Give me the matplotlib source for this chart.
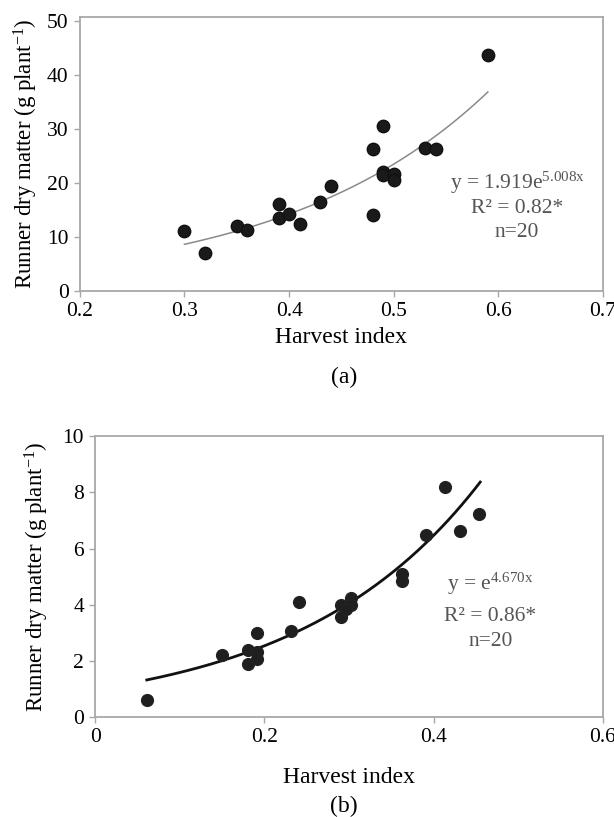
import numpy as np
import matplotlib
matplotlib.use("Agg")
import matplotlib.pyplot as plt

plt.rcParams['font.family'] = ['Liberation Serif', 'DejaVu Serif']
plt.rcParams['mathtext.fontset'] = 'custom'
plt.rcParams['mathtext.rm'] = 'Liberation Serif'
plt.rcParams['mathtext.it'] = 'Liberation Serif'

# Panel (a) data
hi_a = [0.30, 0.32, 0.35, 0.36, 0.39, 0.39, 0.40, 0.41, 0.43, 0.44,
        0.48, 0.48, 0.49, 0.49, 0.49, 0.50, 0.50, 0.53, 0.54, 0.59]
rdm_a = [11.0, 7.0, 12.1, 11.2, 16.1, 13.5, 14.3, 12.3, 16.5, 19.5,
         26.2, 14.1, 30.5, 22.1, 21.5, 21.6, 20.6, 26.5, 26.3, 43.7]
coef_a, expo_a = 1.919, 5.008
fit_range_a = (0.30, 0.59)

# Panel (b) data
hi_b = [0.061, 0.150, 0.181, 0.181, 0.191, 0.191, 0.191, 0.231, 0.241, 0.291,
        0.291, 0.302, 0.302, 0.296, 0.362, 0.362, 0.391, 0.413, 0.431, 0.453]
rdm_b = [0.62, 2.22, 2.39, 1.89, 2.99, 2.34, 2.07, 3.08, 4.09, 4.00,
         3.57, 4.26, 3.98, 3.85, 5.11, 4.85, 6.47, 8.19, 6.63, 7.22]
coef_b, expo_b = 1.0, 4.670
fit_range_b = (0.061, 0.455)

xticks_a = [0.2, 0.3, 0.4, 0.5, 0.6, 0.7]
yticks_a = [0, 10, 20, 30, 40, 50]
xticks_b = [0, 0.2, 0.4, 0.6]
yticks_b = [0, 2, 4, 6, 8, 10]

fig = plt.figure(figsize=(6.14, 8.17), dpi=100)
ax1 = fig.add_axes([0.130, 0.644, 0.852, 0.335])
ax2 = fig.add_axes([0.155, 0.122, 0.827, 0.344])

spine_col = '#a8a8a8'
ylab = 'Runner dry matter (g plant$^{\\mathregular{-1}}$)'

def style(ax):
    for s in ax.spines.values():
        s.set_color(spine_col)
        s.set_linewidth(1.3)
    ax.tick_params(direction='out', length=4, width=1.0, color=spine_col,
                   labelsize=15.5, pad=4)

# Panel (a)
ax1.scatter(hi_a, rdm_a, s=80, color='#1a1a1a', edgecolor='#111111', zorder=3)
xf = np.linspace(*fit_range_a, 200)
ax1.plot(xf, coef_a * np.exp(expo_a * xf), color='#8a8a8a', lw=1.1, zorder=2)
ax1.set_xlim(0.2, 0.7)
ax1.set_ylim(0, 50.7)
ax1.set_xticks(xticks_a)
ax1.set_xticklabels(['0.2', '0.3', '0.4', '0.5', '0.6', '0.7'])
ax1.set_yticks(yticks_a)
style(ax1)
ax1.set_xlabel('Harvest index', fontsize=17, labelpad=4)
ax1.set_ylabel(ylab, fontsize=16.5, labelpad=5)
txtc = '#555555'
fs_eq = 15.5
ax1.text(0.618, 20.0, 'y = 1.919e$^{\\mathregular{5.008x}}$', ha='center', va='center',
         fontsize=fs_eq, color=txtc)
ax1.text(0.618, 15.2, 'R² = 0.82*', ha='center', va='center', fontsize=fs_eq, color=txtc)
ax1.text(0.618, 10.9, 'n=20', ha='center', va='center', fontsize=fs_eq, color=txtc)
fig.text(0.560, 1 - 377 / 817, '(a)', ha='center', va='center', fontsize=17)

# Panel (b)
ax2.scatter(hi_b, rdm_b, s=72, color='#1f1f1f', edgecolor='#222222', zorder=3)
xf = np.linspace(*fit_range_b, 200)
ax2.plot(xf, coef_b * np.exp(expo_b * xf), color='#111111', lw=2.0, zorder=2)
ax2.set_xlim(0, 0.6)
ax2.set_ylim(0, 10)
ax2.set_xticks(xticks_b)
ax2.set_xticklabels(['0', '0.2', '0.4', '0.6'])
ax2.set_yticks(yticks_b)
style(ax2)
ax2.set_xlabel('Harvest index', fontsize=17, labelpad=14)
ax2.set_ylabel(ylab, fontsize=16.5, labelpad=8)
ax2.text(0.467, 4.75, 'y = e$^{\\mathregular{4.670x}}$', ha='center', va='center',
         fontsize=fs_eq, color=txtc)
ax2.text(0.467, 3.6, 'R² = 0.86*', ha='center', va='center', fontsize=fs_eq, color=txtc)
ax2.text(0.467, 2.7, 'n=20', ha='center', va='center', fontsize=fs_eq, color=txtc)
fig.text(0.560, 1 - 806 / 817, '(b)', ha='center', va='center', fontsize=17)

fig.savefig('out.png', dpi=100)
